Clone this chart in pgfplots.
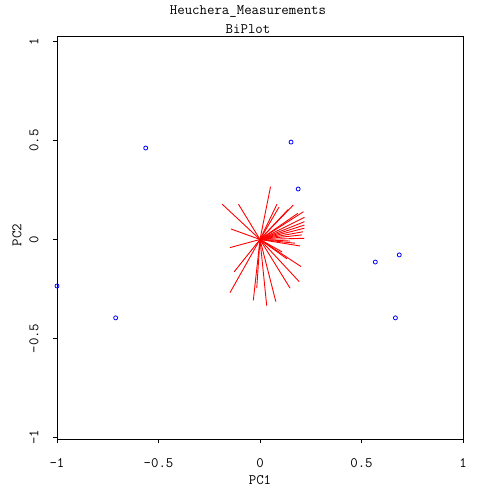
\documentclass[border=0pt]{standalone}
\usepackage{pgfplots}
\pgfplotsset{compat=1.18}
\usepackage{pgfplotstable}
\usepackage{fontspec}

% loadings: lines from the origin (quiver)
\pgfplotstableread{
x y u v
0 0 0.052 0.267
0 0 -0.186 0.178
0 0 -0.106 0.178
0 0 0.084 0.179
0 0 0.094 0.164
0 0 0.140 0.153
0 0 0.164 0.174
0 0 0.186 0.132
0 0 0.214 0.140
0 0 0.219 0.112
0 0 0.219 0.090
0 0 0.219 0.073
0 0 0.219 0.057
0 0 0.212 0.039
0 0 0.206 0.023
0 0 0.219 0.006
0 0 0.173 -0.019
0 0 0.148 -0.008
0 0 0.198 -0.033
0 0 0.109 -0.063
0 0 0.133 -0.098
0 0 0.202 -0.137
0 0 0.193 -0.213
0 0 0.148 -0.246
0 0 0.078 -0.314
0 0 0.033 -0.334
0 0 -0.016 -0.246
0 0 -0.033 -0.308
0 0 -0.148 -0.269
0 0 -0.127 -0.163
0 0 -0.148 -0.041
0 0 -0.143 0.053
}\loadings

% scores
\pgfplotstableread{
x y
-0.563 0.462
0.153 0.492
0.188 0.255
0.568 -0.114
0.686 -0.078
0.667 -0.396
-0.711 -0.396
-1.000 -0.235
}\scores

\newcommand{\mono}{\ttfamily\fontsize{14.5}{16}\selectfont}

\begin{document}
\begin{tikzpicture}
\useasboundingbox (-57bp,-57bp) rectangle (445bp,439bp);
\begin{axis}[
    at={(0,0)}, anchor=south west,
    scale only axis,
    width=406bp, height=403bp,
    xmin=-1, xmax=1,
    ymin=-1.008, ymax=1.028,
    xtick={-1,-0.5,0,0.5,1},
    ytick={-1,-0.5,0,0.5,1},
    axis line style={black, line width=0.8pt},
    tick align=outside,
    major tick length=4bp,
    tick style={black, line width=0.8pt},
    xtick pos=bottom, ytick pos=left,
    /pgf/number format/assume math mode=true,
    ticklabel style={font=\mono},
    xticklabel shift=12bp,
    yticklabel shift=11bp,
    yticklabel style={rotate=90, anchor=south},
]
\addplot[red, line width=0.9pt, no markers,
    quiver={u=\thisrow{u}, v=\thisrow{v}}] table[x=x, y=y] {\loadings};
\addplot[only marks, blue, mark=o, mark size=2bp, line width=0.8pt] table[x=x, y=y] {\scores};
\end{axis}
\node[font=\mono] at (203bp,-41bp) {PC1};
\node[font=\mono, rotate=90] at (-40bp,204bp) {PC2};
\node[font=\mono] at (191bp,427bp) {Heuchera\_Measurements};
\node[font=\mono] at (191bp,410bp) {BiPlot};
\end{tikzpicture}
\end{document}
